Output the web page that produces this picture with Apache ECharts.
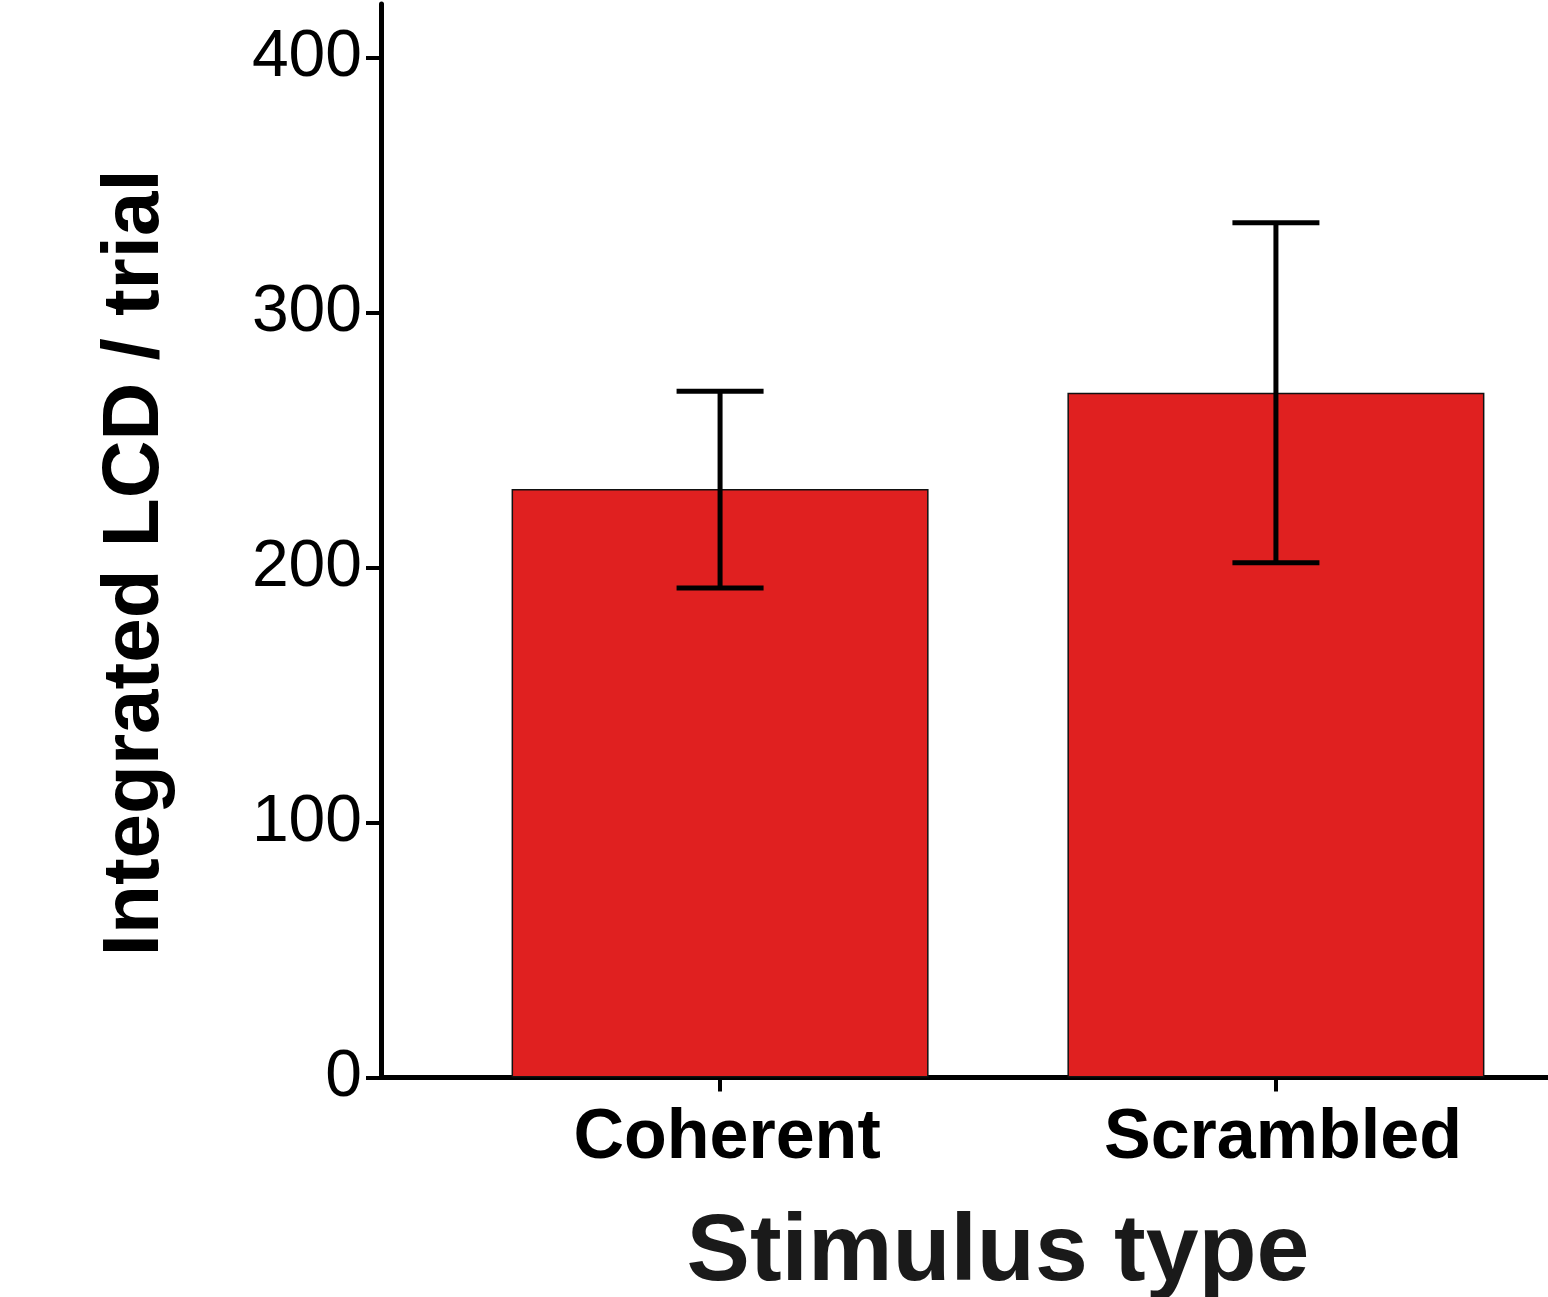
<!DOCTYPE html>
<html>
<head>
<meta charset="utf-8">
<script src="https://cdn.jsdelivr.net/npm/echarts@6/dist/echarts.min.js"></script>
<style>
  html, body { margin: 0; padding: 0; background: #ffffff; }
  #chart { width: 1548px; height: 1297px; }
</style>
</head>
<body>
<div id="chart"></div>
<script>
// ---- data ----
const categories = ['Coherent', 'Scrambled'];
const categoryPositions = [1, 2];
const meanValues = [230.8, 268.5];
const errLow = [192.0, 201.9];
const errHigh = [269.1, 335.2];
const yTickValues = [0, 100, 200, 300, 400];

const xTitle = 'Stimulus type';
const yTitle = 'Integrated LCD / trial';

// ---- build ----
const barData = categoryPositions.map((p, i) => [p, meanValues[i]]);
const errData = categoryPositions.map((p, i) => [p, errLow[i], errHigh[i]]);
const FONT = '"Liberation Sans", Arial, Helvetica, sans-serif';
const CAP = 87;

const chart = echarts.init(document.getElementById('chart'), null, { renderer: 'canvas' });
chart.setOption({
  animation: false,
  backgroundColor: '#ffffff',
  grid: { left: 381, right: -67, top: 4, bottom: 219.5, containLabel: false, outerBoundsMode: 'none' },
  xAxis: {
    type: 'value',
    min: 0.39,
    max: 2.61,
    splitLine: { show: false },
    axisLine: { show: true, lineStyle: { color: '#000', width: 5 } },
    axisTick: { show: true, customValues: categoryPositions, length: 14, lineStyle: { color: '#000', width: 4 } },
    axisLabel: {
      show: true,
      customValues: categoryPositions,
      formatter: v => categories[categoryPositions.indexOf(Math.round(v))] || '',
      fontFamily: FONT, fontWeight: 'bold', fontSize: 70, color: '#000',
      margin: 26, padding: [0, 0, 0, 14]
    },
    name: xTitle,
    nameLocation: 'middle',
    nameGap: 129,
    nameTextStyle: { fontFamily: FONT, fontWeight: 'bold', fontSize: 95, color: '#1a1a1a' }
  },
  yAxis: {
    type: 'value',
    min: 0,
    max: 421,
    splitLine: { show: false },
    axisLine: { show: true, lineStyle: { color: '#000', width: 5 } },
    axisTick: { show: true, customValues: yTickValues, length: 15, lineStyle: { color: '#000', width: 4 } },
    axisLabel: {
      show: true, customValues: yTickValues,
      fontFamily: FONT, fontSize: 66, color: '#000', margin: 19
    },
    name: yTitle,
    nameLocation: 'middle',
    nameGap: 205,
    nameTextStyle: { fontFamily: FONT, fontWeight: 'bold', fontSize: 80, color: '#000', padding: [0, 44, 0, 0] }
  },
  series: [
    {
      type: 'bar',
      data: barData,
      barWidth: 417,
      itemStyle: { color: '#E02020', borderColor: '#111', borderWidth: 1.5 },
      z: 2
    },
    {
      type: 'custom',
      data: errData,
      z: 5,
      renderItem: (params, api) => {
        const x = api.value(0);
        const lo = api.coord([x, api.value(1)]);
        const hi = api.coord([x, api.value(2)]);
        const st = { stroke: '#000', lineWidth: 5, lineCap: 'butt' };
        return {
          type: 'group',
          children: [
            { type: 'line', shape: { x1: hi[0], y1: hi[1], x2: lo[0], y2: lo[1] }, style: st },
            { type: 'line', shape: { x1: hi[0] - CAP / 2, y1: hi[1], x2: hi[0] + CAP / 2, y2: hi[1] }, style: st },
            { type: 'line', shape: { x1: lo[0] - CAP / 2, y1: lo[1], x2: lo[0] + CAP / 2, y2: lo[1] }, style: st }
          ]
        };
      }
    }
  ]
});
</script>
</body>
</html>
